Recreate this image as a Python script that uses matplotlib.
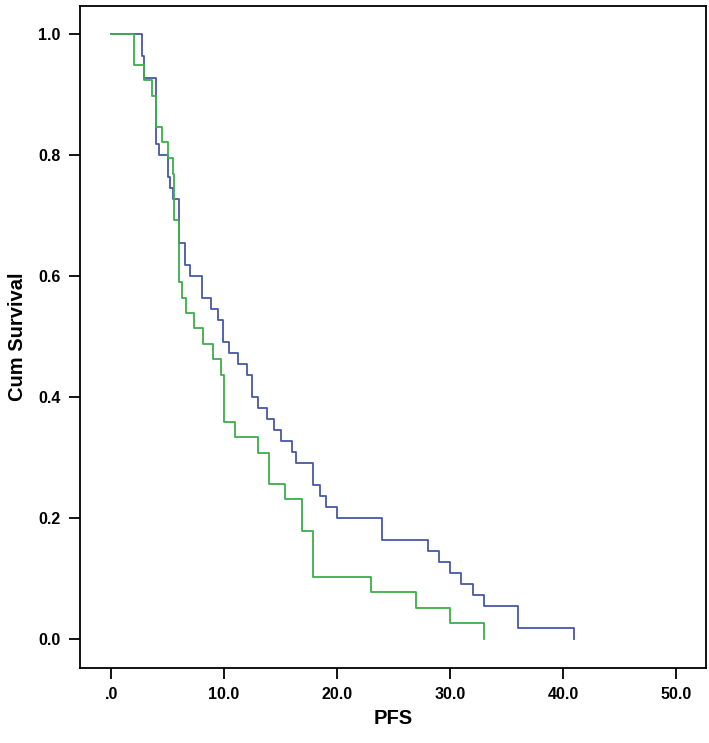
import matplotlib
matplotlib.use("Agg")
import matplotlib.pyplot as plt

# Kaplan-Meier steps (time, survival after the drop)
blue_t = [0, 2.7, 2.9, 4.0, 4.2, 5.0, 5.2, 5.5, 6.0, 6.5, 7.0, 8.0, 8.8, 9.5, 9.9,
          10.4, 11.2, 12.0, 12.5, 13.0, 13.8, 14.4, 15.0, 16.0, 16.4, 17.9, 18.5,
          19.0, 20.0, 24.0, 28.0, 29.0, 30.0, 31.0, 32.0, 33.0, 36.0, 41.0]
blue_s = [1.0, 0.964, 0.927, 0.818, 0.800, 0.764, 0.745, 0.727, 0.655, 0.618, 0.600,
          0.564, 0.545, 0.527, 0.491, 0.473, 0.455, 0.436, 0.400, 0.382, 0.364,
          0.345, 0.327, 0.309, 0.291, 0.255, 0.236, 0.218, 0.200, 0.164, 0.145,
          0.127, 0.109, 0.091, 0.073, 0.055, 0.018, 0.0]

green_t = [0, 2.0, 2.9, 3.6, 4.0, 4.5, 5.0, 5.5, 5.6, 6.0, 6.3, 6.6, 7.3, 8.1, 9.0,
           9.7, 10.0, 11.0, 13.0, 14.0, 15.4, 16.9, 17.9, 23.0, 27.0, 30.0, 33.0]
green_s = [1.0, 0.949, 0.923, 0.897, 0.846, 0.821, 0.795, 0.769, 0.692, 0.590, 0.564,
           0.538, 0.513, 0.487, 0.462, 0.436, 0.359, 0.333, 0.308, 0.256, 0.231,
           0.179, 0.103, 0.077, 0.051, 0.026, 0.0]

x_ticks = [0, 10, 20, 30, 40, 50]
x_labels = [".0", "10.0", "20.0", "30.0", "40.0", "50.0"]
y_ticks = [0.0, 0.2, 0.4, 0.6, 0.8, 1.0]
y_labels = ["0.0", "0.2", "0.4", "0.6", "0.8", "1.0"]

plt.rcParams["font.family"] = ["Liberation Sans", "DejaVu Sans"]

fig = plt.figure(figsize=(7.09, 7.43), dpi=100)
ax = fig.add_axes([0.113, 0.101, 0.883, 0.891])

ax.step(blue_t, blue_s, where="post", color="#4657a6", lw=1.3)
ax.step(green_t, green_s, where="post", color="#3dae4c", lw=1.3)

ax.set_xlim(-2.74, 52.65)
ax.set_ylim(-0.048, 1.046)
ax.set_xticks(x_ticks)
ax.set_xticklabels(x_labels, fontweight="bold")
ax.set_yticks(y_ticks)
ax.set_yticklabels(y_labels, fontweight="bold")
ax.tick_params(direction="out", length=8, width=1.3, labelsize=11.5,
               color="black", pad=6)
for sp in ax.spines.values():
    sp.set_linewidth(1.3)

ax.set_xlabel("PFS", fontsize=14.5, fontweight="bold", labelpad=5)
ax.set_ylabel("Cum Survival", fontsize=14.5, fontweight="bold", labelpad=8)

fig.savefig("out.png", dpi=100)
